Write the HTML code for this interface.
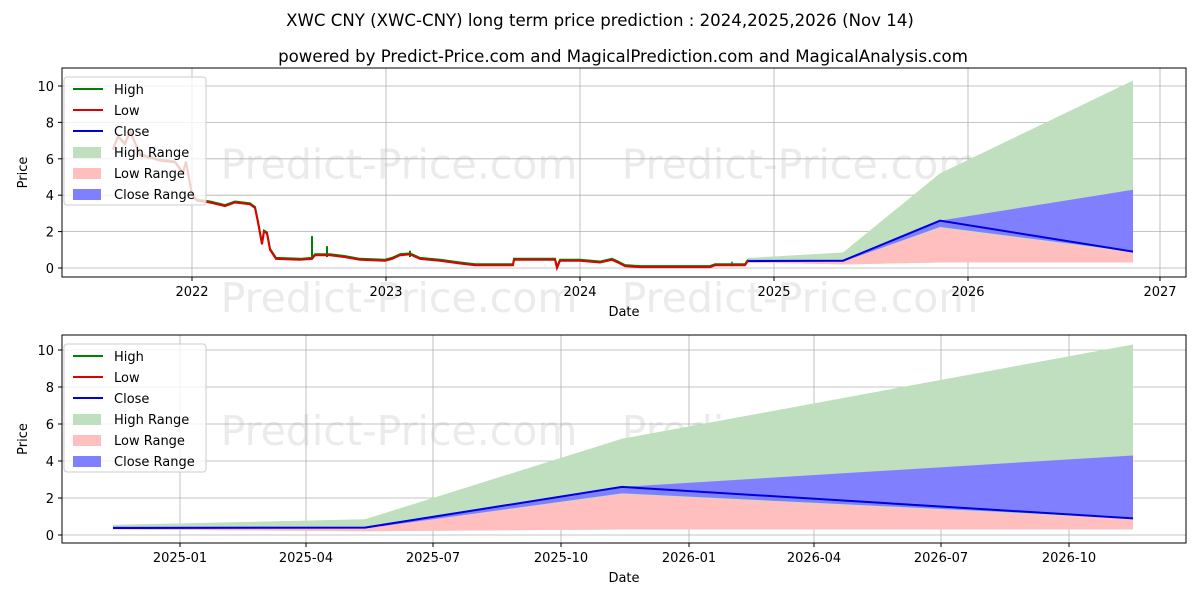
<!DOCTYPE html>
<html><head><meta charset="utf-8"><style>
body{margin:0;background:#fff;}
svg text{font-family:"DejaVu Sans","Liberation Sans",sans-serif;fill:#000;}
</style></head><body>
<svg id="s" width="1200" height="600" xmlns="http://www.w3.org/2000/svg">
<text x="600" y="26" font-size="16.6" text-anchor="middle">XWC CNY (XWC-CNY) long term price prediction : 2024,2025,2026 (Nov 14)</text>
<text x="623" y="62" font-size="16.6" text-anchor="middle">powered by Predict-Price.com and MagicalPrediction.com and MagicalAnalysis.com</text>
<g id="g"></g>
</svg>
<script>
const g=document.getElementById('g');let h='';
function add(s){h+=s;}
function chart(top,bot,y0,y10,xt,fx,hist){
 const L=62,R=1186;const Y=v=>y0+(y10-y0)*v/10;
 const wy=(top+bot)/2+6;
 add(`<text x="399" y="${wy}" font-size="41" style="fill:#ebebeb" text-anchor="middle">Predict-Price.com</text>`);
 add(`<text x="800" y="${wy}" font-size="41" style="fill:#ebebeb" text-anchor="middle">Predict-Price.com</text>`);
 if(hist)add(`<text x="399" y="${bot+35}" font-size="41" style="fill:#ebebeb" text-anchor="middle">Predict-Price.com</text><text x="800" y="${bot+35}" font-size="41" style="fill:#ebebeb" text-anchor="middle">Predict-Price.com</text>`);
 for(let v=0;v<=10;v+=2){const y=Y(v);add(`<line x1="${L}" x2="${R}" y1="${y}" y2="${y}" stroke="#b0b0b0" stroke-width="0.8"/><line x1="${L-4}" x2="${L}" y1="${y}" y2="${y}" stroke="#000"/><text x="${L-8}" y="${y+5}" font-size="13" text-anchor="end">${v}</text>`);}
 for(const [x,l] of xt){add(`<line x1="${x}" x2="${x}" y1="${top}" y2="${bot}" stroke="#b0b0b0" stroke-width="0.8"/><line x1="${x}" x2="${x}" y1="${bot}" y2="${bot+4}" stroke="#000"/><text x="${x}" y="${bot+19}" font-size="13" text-anchor="middle">${l}</text>`);}
 const P=(xs,a,b)=>xs.map((x,i)=>`${x},${Y(a[i])}`).join(' ')+' '+xs.map((x,i)=>`${x},${Y(b[i])}`).reverse().join(' ');
 const base=[0.3,0.2,0.3,0.3],low=[0.35,0.35,2.2,0.85],cl=[0.35,0.35,2.25,0.9],cu=[0.45,0.45,2.6,4.3],hi=[0.55,0.85,5.2,10.3],c=[0.38,0.4,2.6,0.9];
 add(`<polygon points="${P(fx,base,hi)}" fill="#bfdfbf"/>`);
 add(`<polygon points="${P(fx,base,low)}" fill="#ffbfbf"/>`);
 add(`<polygon points="${P(fx,cl,cu)}" fill="#8080ff"/>`);
 if(hist){
  let gp=hist.map(p=>`${p[0]},${Y(p[1])}`).join(' ');
  add(`<line x1="312" x2="312" y1="${Y(0.5)}" y2="${Y(1.75)}" stroke="green" stroke-width="2"/><line x1="327" x2="327" y1="${Y(0.6)}" y2="${Y(1.2)}" stroke="green" stroke-width="2"/><line x1="410" x2="410" y1="${Y(0.6)}" y2="${Y(0.95)}" stroke="green" stroke-width="2"/><line x1="732" x2="732" y1="${Y(0.1)}" y2="${Y(0.35)}" stroke="green" stroke-width="1.5"/>`);
  add(`<polyline points="${gp}" fill="none" stroke="green" stroke-width="2" transform="translate(0,-1)"/>`);
  add(`<polyline points="${gp}" fill="none" stroke="#e00000" stroke-width="2"/>`);
 }
 add(`<polyline points="${fx.map((x,i)=>x+','+Y(c[i])).join(' ')}" fill="none" stroke="#0000e0" stroke-width="2"/>`);
 add(`<rect x="${L}" y="${top}" width="${R-L}" height="${bot-top}" fill="none" stroke="#000" stroke-width="1"/>`);
 add(`<text x="27" y="${(top+bot)/2}" font-size="13" text-anchor="middle" transform="rotate(-90 27 ${(top+bot)/2})">Price</text>`);
 add(`<text x="${(L+R)/2}" y="${bot+39}" font-size="13" text-anchor="middle">Date</text>`);
 const lx=69,ly=top+9;
 add(`<rect x="${lx-5}" y="${ly}" width="142" height="128" rx="3" fill="#fff" fill-opacity="0.8" stroke="#ccc"/>`);
 const items=[['l','green','High'],['l','#e00000','Low'],['l','#0000e0','Close'],['r','#bfdfbf','High Range'],['r','#ffbfbf','Low Range'],['r','#8080ff','Close Range']];
 items.forEach((it,i)=>{const y=ly+12+i*21;
  if(it[0]=='l')add(`<line x1="${lx+4}" x2="${lx+34}" y1="${y}" y2="${y}" stroke="${it[1]}" stroke-width="2"/>`);
  else add(`<rect x="${lx+4}" y="${y-5}" width="28" height="11" fill="${it[1]}"/>`);
  add(`<text x="${lx+45}" y="${y+5}" font-size="13">${it[2]}</text>`);});
}
const hist=[[113,6.5],[118,7.2],[125,6.8],[130,7.5],[140,6.2],[160,5.9],[175,5.8],[183,5.2],[186,5.8],[192,4.0],[197,3.7],[210,3.6],[225,3.4],[235,3.6],[250,3.5],[255,3.3],[258,2.5],[262,1.3],[264,2.0],[267,1.9],[270,1.0],[276,0.5],[300,0.45],[312,0.5],[315,0.7],[330,0.7],[345,0.6],[360,0.45],[385,0.4],[392,0.5],[400,0.7],[410,0.75],[420,0.5],[440,0.4],[460,0.25],[475,0.15],[513,0.15],[514,0.45],[555,0.45],[557,0.0],[560,0.4],[580,0.4],[600,0.3],[612,0.45],[618,0.3],[625,0.1],[640,0.05],[710,0.05],[715,0.15],[745,0.15],[748,0.4]];
chart(68,277,268,86,[[192,'2022'],[386,'2023'],[580,'2024'],[774,'2025'],[968,'2026'],[1160,'2027']],[748,843,940,1133],hist);
chart(335,543,535,350,[[180,'2025-01'],[306,'2025-04'],[433,'2025-07'],[561,'2025-10'],[689,'2026-01'],[814,'2026-04'],[941,'2026-07'],[1069,'2026-10']],[113,365,622,1133],null);
g.innerHTML=h;
</script>
</body></html>
